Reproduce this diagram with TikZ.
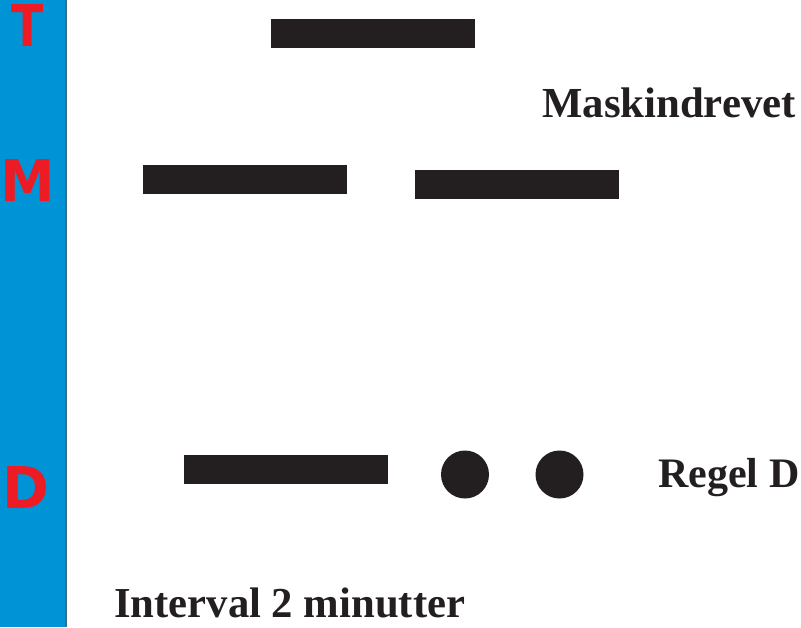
\documentclass[tikz,border=0pt]{standalone}
\usepackage{fontspec}
\setmainfont{Liberation Serif}
\newfontfamily\letterfont{DejaVu Sans}
\definecolor{sideblue}{HTML}{0093D6}
\definecolor{sideedge}{HTML}{3B6E86}
\definecolor{lettred}{HTML}{ED1C24}
\definecolor{inkblack}{HTML}{231F20}
\begin{document}
\begin{tikzpicture}[x=1pt,y=-1pt,
  sidelabel/.style={font=\letterfont\bfseries\fontsize{57.6}{57.6}\selectfont, text=lettred, inner sep=0pt},
  barbox/.style={fill=inkblack, draw=none},
  dotmark/.style={circle, fill=inkblack, draw=none, minimum size=48pt, inner sep=0pt},
  caption/.style={font=\bfseries\fontsize{42.7}{42.7}\selectfont, text=inkblack, inner sep=0pt, anchor=base west}]
\useasboundingbox (0,0) rectangle (801,627);
\fill[white] (0,0) rectangle (801,627);
\fill[sideblue] (0,0) rectangle (65.5,627);
\draw[sideedge, line width=1.2pt] (66,0) -- (66,627);
\node[sidelabel, xscale=0.82] (lT) at (27.5,26) {T};
\node[sidelabel, xscale=0.95] (lM) at (27.5,180.5) {M};
\node[sidelabel, xscale=0.98] (lD) at (25.5,487) {D};
\fill[barbox] (271,19) rectangle (475,48);
\fill[barbox] (143,165) rectangle (347,194);
\fill[barbox] (415,170) rectangle (619,199);
\fill[barbox] (184,455) rectangle (388,484);
\node[dotmark] (d1) at (465,474.5) {};
\node[dotmark] (d2) at (559.5,474.5) {};
\node[caption, font=\bfseries\fontsize{42.8}{42.8}\selectfont] (mask) at (542,117) {Maskindrevet};
\node[caption, font=\bfseries\fontsize{42}{42}\selectfont] (regel) at (658,487) {Regel D};
\node[caption] (interval) at (114,617) {Interval 2 minutter};
\end{tikzpicture}
\end{document}
